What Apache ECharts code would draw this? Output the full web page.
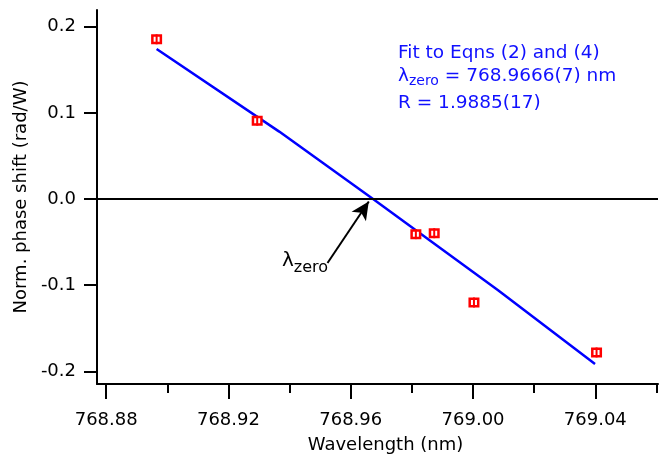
<!DOCTYPE html>
<html>
<head>
<meta charset="utf-8">
<script src="https://cdn.jsdelivr.net/npm/echarts@6/dist/echarts.min.js"></script>
<style>html,body{margin:0;padding:0;background:#fff}#c{width:670px;height:459px}</style>
</head>
<body>
<div id="c"></div>
<script>
const wavelength = [768.8965, 768.9294, 768.9813, 768.9873, 769.0003, 769.0404];
const phaseShift = [0.1854, 0.0910, -0.0407, -0.0396, -0.1200, -0.1780];
const fitX = [768.8965, 768.9366, 768.9673, 769.0083, 769.0399];
const fitY = [0.1741, 0.0783, 0.0000, -0.1061, -0.1914];
const xMajorTicks = [768.88, 768.92, 768.96, 769.00, 769.04];
const xMinorTicks = [768.90, 768.94, 768.98, 769.02, 769.06];
const yTicks = [-0.2, -0.1, 0.0, 0.1, 0.2];
const arrowFrom = [768.9524, -0.0742];
const arrowTo = [768.9659, -0.0029];

const FONT = 'DejaVu Sans';
const chart = echarts.init(document.getElementById('c'));
const xMin = 768.877, xMax = 769.0605, yMin = -0.2146, yMax = 0.2194;

const points = wavelength.map((x, i) => [x, phaseShift[i]]);
const fitData = fitX.map((x, i) => [x, fitY[i]]);

const ctx = document.createElement('canvas').getContext('2d');
function tw(text, size) { ctx.font = size + 'px "' + FONT + '"'; return ctx.measureText(text).width; }

const BLUE = '#1010ff';
const bx = 398;
const lamW = tw('λ', 18.5), zeroW = tw('zero', 14);
const ax = 282;
const lamW2 = tw('λ', 20);

chart.setOption({
  animation: false,
  grid: { left: 97, right: 12, top: 10, bottom: 75 },
  xAxis: [{
    type: 'value', min: xMin, max: xMax, position: 'bottom',
    name: 'Wavelength (nm)', nameLocation: 'middle', nameGap: 52,
    nameTextStyle: { fontFamily: FONT, fontSize: 18, color: '#000', padding: [0, 0, 0, 16] },
    axisLine: { show: true, onZero: false, lineStyle: { color: '#000', width: 2 } },
    axisTick: { show: true, length: 15, lineStyle: { color: '#000', width: 2 }, customValues: xMajorTicks },
    axisLabel: { show: true, customValues: xMajorTicks, margin: 27, fontFamily: FONT, fontSize: 18, color: '#000',
      formatter: v => v.toFixed(2) },
    splitLine: { show: false }
  }, {
    type: 'value', min: xMin, max: xMax, position: 'bottom', gridIndex: 0,
    axisLine: { show: false, onZero: false },
    axisTick: { show: true, length: 9, lineStyle: { color: '#000', width: 2 }, customValues: xMinorTicks },
    axisLabel: { show: false },
    splitLine: { show: false }
  }],
  yAxis: {
    type: 'value', min: yMin, max: yMax,
    name: 'Norm. phase shift (rad/W)', nameLocation: 'middle', nameGap: 63, nameRotate: 90,
    nameTextStyle: { fontFamily: FONT, fontSize: 18, color: '#000' },
    axisLine: { show: true, onZero: false, lineStyle: { color: '#000', width: 2 } },
    axisTick: { show: true, length: 13, lineStyle: { color: '#000', width: 2 }, customValues: yTicks },
    axisLabel: { show: true, customValues: yTicks, margin: 21, fontFamily: FONT, fontSize: 18, color: '#000',
      formatter: v => v.toFixed(1) },
    splitLine: { show: false }
  },
  series: [{
    type: 'line', data: fitData, showSymbol: false, symbol: 'none', silent: true,
    lineStyle: { color: '#0000ff', width: 2.5 }, z: 3,
    markLine: {
      silent: true, animation: false,
      label: { show: false },
      data: [
        { yAxis: 0, symbol: 'none', lineStyle: { color: '#000', width: 2, type: 'solid' } },
        [{ coord: arrowFrom, symbol: 'none' },
         { coord: arrowTo, symbol: 'arrow', symbolSize: [13, 18], lineStyle: { color: '#000', width: 2, type: 'solid' } }]
      ],
      lineStyle: { color: '#000', width: 2, type: 'solid' },
      symbol: ['none', 'none']
    }
  }, {
    type: 'custom', data: points, z: 5, silent: true,
    renderItem: function (params, api) {
      const p = api.coord([api.value(0), api.value(1)]);
      return {
        type: 'group',
        children: [
          { type: 'rect', shape: { x: p[0] - 4.25, y: p[1] - 3.75, width: 8.5, height: 7.5 },
            style: { fill: '#fff', stroke: '#ff0000', lineWidth: 2.5 } },
          { type: 'line', shape: { x1: p[0], y1: p[1] - 5, x2: p[0], y2: p[1] + 5 },
            style: { stroke: '#ff0000', lineWidth: 2 } }
        ]
      };
    }
  }],
  graphic: [
    { type: 'text', left: bx, top: 44, style: { text: 'Fit to Eqns (2) and (4)', fill: BLUE, font: '18.5px "' + FONT + '"' } },
    { type: 'text', left: bx, top: 67, style: { text: 'λ', fill: BLUE, font: '18.5px "' + FONT + '"' } },
    { type: 'text', left: bx + lamW, top: 74, style: { text: 'zero', fill: BLUE, font: '14px "' + FONT + '"' } },
    { type: 'text', left: bx + lamW + zeroW, top: 67, style: { text: ' = 768.9666(7) nm', fill: BLUE, font: '18.5px "' + FONT + '"' } },
    { type: 'text', left: bx, top: 94, style: { text: 'R = 1.9885(17)', fill: BLUE, font: '18.5px "' + FONT + '"' } },
    { type: 'text', left: ax, top: 251, style: { text: 'λ', fill: '#000', font: '20px "' + FONT + '"' } },
    { type: 'text', left: ax + lamW2, top: 260, style: { text: 'zero', fill: '#000', font: '16px "' + FONT + '"' } }
  ]
});
</script>
</body>
</html>
